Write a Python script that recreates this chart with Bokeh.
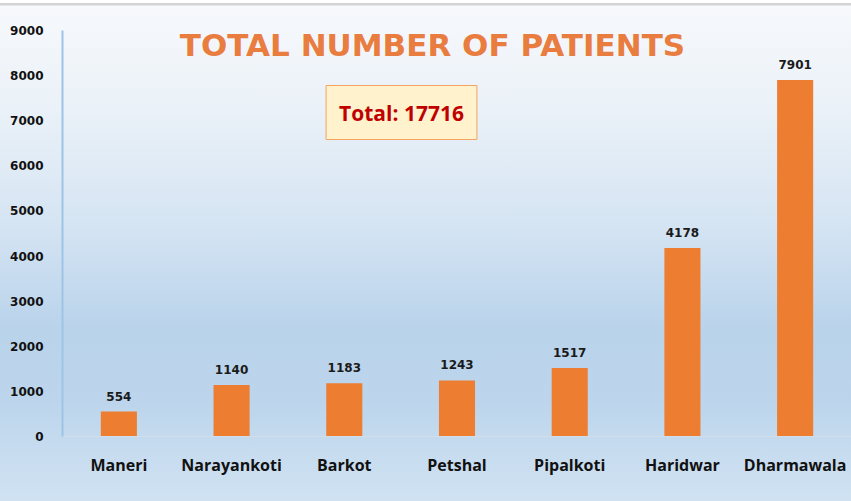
from bokeh.plotting import figure
from bokeh.models import Range1d, SingleIntervalTicker, Label, FactorRange
from bokeh.core.properties import value
from bokeh.embed import file_html
from bokeh.resources import INLINE

sites = ["Maneri", "Narayankoti", "Barkot", "Petshal", "Pipalkoti", "Haridwar", "Dharmawala"]
patients = [554, 1140, 1183, 1243, 1517, 4178, 7901]
y_max = 9000
y_step = 1000
title_text = "TOTAL NUMBER OF PATIENTS"
total = sum(patients)

p = figure(x_range=FactorRange(*sites, range_padding=0), y_range=Range1d(0, y_max),
           width=851, height=501, output_backend="svg", toolbar_location=None,
           min_border_left=62, min_border_right=0, min_border_top=30, min_border_bottom=65)

p.styles = {"background": "linear-gradient(to bottom, #ffffff 0px, #ffffff 3px, #d4d4d4 3px, #d4d4d4 5px, "
                          "#f7f9fc 6px, #eaf1f8 110px, #d6e5f3 220px, #b9d3eb 330px, #bcd5ec 400px, #d0e2f2 501px)"}
p.background_fill_alpha = 0
p.border_fill_alpha = 0
p.outline_line_color = None
p.xgrid.grid_line_color = None
p.ygrid.grid_line_color = None

p.vbar(x=sites, top=patients, width=0.32, color="#ED7D31", line_color=None)

labels = [str(v) for v in patients]
p.text(x=sites, y=patients, text=labels, text_align="center", text_baseline="bottom",
       y_offset=-11, text_font_size="12px", text_font_style="bold", text_color="#1a1a1a",
       text_font=value("DejaVu Sans"))

yax = p.yaxis[0]
yax.ticker = SingleIntervalTicker(interval=y_step)
yax.axis_line_color = "#9DC3E6"
yax.axis_line_width = 2
yax.major_tick_line_color = None
yax.minor_tick_line_color = None
yax.major_label_text_font = "DejaVu Sans"
yax.major_label_text_font_style = "bold"
yax.major_label_text_font_size = "12px"
yax.major_label_text_color = "#111111"
yax.major_label_standoff = 13

xax = p.xaxis[0]
xax.axis_line_color = "#d3dde8"
xax.axis_line_width = 1
xax.major_tick_line_color = None
xax.minor_tick_line_color = None
xax.major_label_text_font = "Open Sans"
xax.major_label_text_font_style = "bold"
xax.major_label_text_font_size = "16px"
xax.major_label_text_color = "#111111"
xax.major_label_standoff = 11

p.add_layout(Label(x=370, y=392, x_units="screen", y_units="screen", text=title_text,
                   text_align="center", text_baseline="middle", text_font="DejaVu Sans",
                   text_font_style="bold", text_font_size="31px", text_color="#E97C3F"))

p.add_layout(Label(x=339, y=324, x_units="screen", y_units="screen", text=f"Total: {total}",
                   text_align="center", text_baseline="middle", text_font="Open Sans",
                   text_font_style="bold", text_font_size="21px", text_color="#C00000",
                   background_fill_color="#FFF2CC", border_line_color="#F4A460", border_line_width=1,
                   padding=13))

open("out.html", "w").write(file_html(p, INLINE))
